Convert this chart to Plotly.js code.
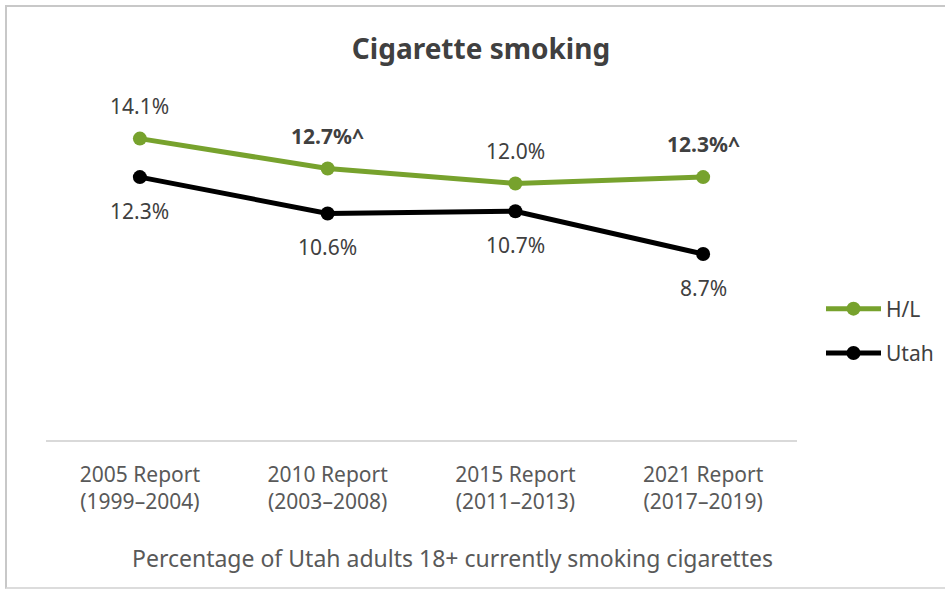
<!DOCTYPE html>
<html>
<head>
<meta charset="utf-8">
<script src="https://cdn.plot.ly/plotly-3.0.1.min.js"></script>
<style>
  html, body { margin: 0; padding: 0; background: #fff; }
  #wrap { position: relative; width: 945px; height: 590px; overflow: hidden; }
  #frame { position: absolute; left: 5px; top: 5px; width: 945px; height: 584px;
           border-left: 2px solid #c8c8c8; border-top: 2px solid #c8c8c8; border-bottom: 2px solid #dcdcdc;
           box-sizing: border-box; pointer-events: none; }
  #chart { position: absolute; left: 0; top: 0; width: 945px; height: 590px; }
</style>
</head>
<body>
<div id="wrap">
  <div id="chart"></div>
  <div id="frame"></div>
</div>
<script>
const categories = ["2005 Report<br>(1999–2004)", "2010 Report<br>(2003–2008)", "2015 Report<br>(2011–2013)", "2021 Report<br>(2017–2019)"];
const hlValues = [14.1, 12.7, 12.0, 12.3];
const hlLabels = ["14.1%", "<b>12.7%^</b>", "12.0%", "<b>12.3%^</b>"];
const utahValues = [12.3, 10.6, 10.7, 8.7];
const utahLabels = ["12.3%", "10.6%", "10.7%", "8.7%"];
const seriesNames = ["H/L", "Utah"];
const chartTitle = "Cigarette smoking";
const axisTitle = "Percentage of Utah adults 18+ currently smoking cigarettes";

const FONT = "'Noto Sans', 'Open Sans', sans-serif";
const GREEN = "#77a22d";
const BLACK = "#000000";
const TEXT = "#404040";

const W = 945, H = 590;
const M = { l: 46, r: 148, t: 98, b: 150, autoexpand: false };
const plotW = W - M.l - M.r, plotH = H - M.t - M.b;
const px2x = px => (px - M.l) / plotW;
const px2y = py => (H - M.b - py) / plotH;

const traces = [
  { x: categories, y: hlValues, name: seriesNames[0], type: "scatter", mode: "lines+markers",
    line: { color: GREEN, width: 5 }, marker: { color: GREEN, size: 14 },
    legendgroup: "a", hoverinfo: "skip" },
  { x: categories, y: utahValues, name: seriesNames[1], type: "scatter", mode: "lines+markers",
    line: { color: BLACK, width: 5 }, marker: { color: BLACK, size: 14 },
    legendgroup: "b", hoverinfo: "skip" }
];

const annotations = [];
categories.forEach((c, i) => {
  annotations.push({ x: c, y: hlValues[i], xref: "x", yref: "y", text: hlLabels[i],
    showarrow: false, yshift: 33, font: { family: FONT, size: 21, color: TEXT } });
  annotations.push({ x: c, y: utahValues[i], xref: "x", yref: "y", text: utahLabels[i],
    showarrow: false, yshift: -34, font: { family: FONT, size: 21, color: TEXT } });
});
annotations.push({ x: px2x(452), xref: "paper", xanchor: "center", y: px2y(558), yref: "paper",
  yanchor: "middle", text: axisTitle, showarrow: false,
  font: { family: FONT, size: 23, color: "#595959" } });

const layout = {
  width: W, height: H,
  paper_bgcolor: "#ffffff", plot_bgcolor: "#ffffff",
  margin: M,
  title: { text: "<b>" + chartTitle + "</b>", x: px2x(481), xanchor: "center", xref: "paper",
    y: 1 - 49 / H, yref: "container", yanchor: "middle",
    font: { family: FONT, size: 28, color: TEXT } },
  xaxis: { type: "category", range: [-0.5, 3.5], showgrid: false, zeroline: false,
    showline: true, linecolor: "#d9d9d9", linewidth: 1.5, ticks: "", ticklabelstandoff: 15,
    tickfont: { family: FONT, size: 21, color: "#595959" }, fixedrange: true, automargin: false },
  yaxis: { range: [0, 16], showgrid: false, zeroline: false, showline: false,
    showticklabels: false, ticks: "", fixedrange: true, automargin: false },
  showlegend: true,
  legend: { x: px2x(821), xref: "paper", xanchor: "left", y: px2y(331), yanchor: "middle",
    font: { family: FONT, size: 21, color: TEXT }, itemwidth: 55, tracegroupgap: 14,
    bgcolor: "rgba(0,0,0,0)" },
  annotations: annotations
};

Plotly.newPlot("chart", traces, layout, { displayModeBar: false, staticPlot: true });
</script>
</body>
</html>
